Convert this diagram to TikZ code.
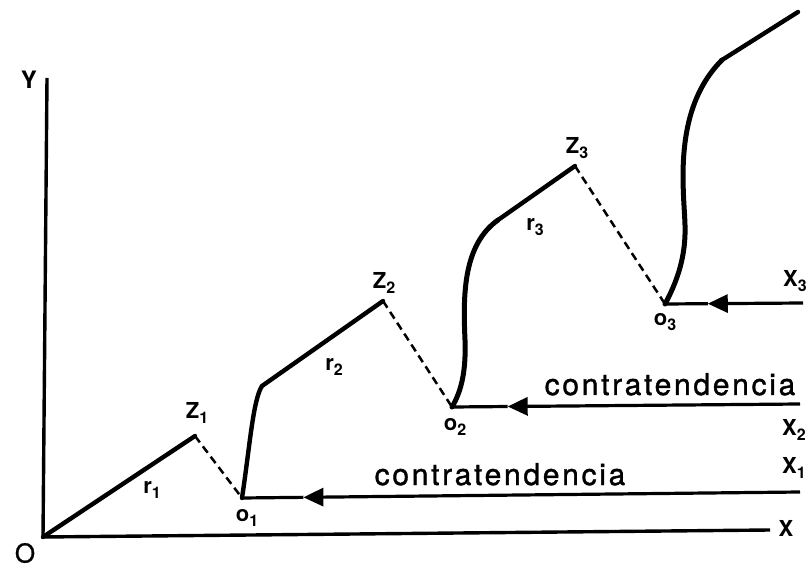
\documentclass[tikz,border=0pt]{standalone}
\usepackage{fontspec}
\setmainfont{TeX Gyre Heros}
\usetikzlibrary{arrows.meta,calc}
\newcommand{\lbl}[2]{#1\raisebox{-0.2em}{\fontsize{16}{16}\selectfont #2}}
\tikzset{
  axis/.style={line width=3.4pt, line join=miter},
  trend/.style={line width=4.4pt, line join=round, line cap=round},
  curveline/.style={line width=5pt, line join=round, line cap=round},
  counter/.style={line width=2.5pt, dash pattern=on 8pt off 5pt},
  xline/.style={line width=3.2pt},
  arrowline/.style={line width=3.2pt, -{Triangle[length=20pt,width=18pt]}},
  lab/.style={inner sep=0pt, font=\fontsize{22}{22}\selectfont\bfseries},
  biglab/.style={inner sep=0pt, font=\fontsize{24}{24}\selectfont\bfseries},
  olab/.style={inner sep=0pt, font=\fontsize{26}{26}\selectfont\addfontfeature{FakeBold=1}},
  ctext/.style={inner sep=0pt, anchor=base, font=\fontsize{30}{30}\selectfont\addfontfeature{LetterSpace=9,FakeBold=1.2}}
}
\begin{document}
\begin{tikzpicture}[x=1pt,y=-1pt]
\useasboundingbox (0,0) rectangle (809,569);
% key points
\coordinate (O) at (43,537);
\coordinate (Ytop) at (47,78);
\coordinate (Xe) at (770,530);
\coordinate (Z1) at (195,436);
\coordinate (o1) at (242,498);
\coordinate (K2) at (262,386);
\coordinate (Z2) at (383,301);
\coordinate (o2) at (452,407);
\coordinate (K3) at (498,220);
\coordinate (Z3) at (575,166);
\coordinate (o3) at (665,304);
\coordinate (K4) at (722,60);
\coordinate (E4) at (798,12);
\coordinate (X1e) at (800,492);
\coordinate (X2e) at (800,404);
\coordinate (X3e) at (803,303);
\coordinate (a1) at ($(o1)!0.11!(X1e)$);
\coordinate (a2) at ($(o2)!0.16!(X2e)$);
\coordinate (a3) at ($(o3)!0.31!(X3e)$);
% axes
\draw[axis] (Ytop) -- (O) -- (Xe);
% trend segments
\draw[trend] (O) -- (Z1);
\draw[trend] (o1) .. controls (250,445) and (253,400) .. (K2) -- (Z2);
\draw[curveline] (o2) .. controls (462,390) and (466,370) .. (465,340)
   .. controls (463,295) and (463,245) .. (K3);
\draw[trend] (K3) -- (Z3);
\draw[curveline] (o3) .. controls (678,280) and (686,255) .. (685,225)
   .. controls (684,190) and (672,110) .. (K4);
\draw[trend] (K4) -- (E4);
% counter-trend dashed
\draw[counter] (Z1) -- (o1);
\draw[counter] (Z2) -- (o2);
\draw[counter] (Z3) -- (o3);
% horizontal lines with arrows
\draw[arrowline] (X1e) -- (a1);
\draw[xline] (a1) -- (o1);
\draw[arrowline] (X2e) -- (a2);
\draw[xline] (a2) -- (o2);
\draw[arrowline] (X3e) -- (a3);
\draw[xline] (a3) -- (o3);
% labels
\node[biglab] (lY) at (29,80) {Y};
\node[olab] (lO) at (25,553) {O};
\node[lab] (lX) at (786,528) {X};
\node[lab] (lZ1) at (197,413) {\lbl{Z}{1}};
\node[lab] (lr1) at (152,490) {\lbl{r}{1}};
\node[lab] (lo1) at (247,518) {\lbl{o}{1}};
\node[lab] (lZ2) at (384,283) {\lbl{Z}{2}};
\node[lab] (lr2) at (334,367) {\lbl{r}{2}};
\node[lab] (lo2) at (455,427) {\lbl{o}{2}};
\node[lab] (lZ3) at (577,148) {\lbl{Z}{3}};
\node[lab] (lr3) at (535,227) {\lbl{r}{3}};
\node[lab] (lo3) at (665,322) {\lbl{o}{3}};
\node[lab] (lX1) at (794,468) {\lbl{X}{1}};
\node[lab] (lX2) at (794,430) {\lbl{X}{2}};
\node[lab] (lX3) at (795,281) {\lbl{X}{3}};
\node[ctext] (c1) at (500,485) {contratendencia};
\node[ctext] (c2) at (670,395) {contratendencia};
\end{tikzpicture}
\end{document}
